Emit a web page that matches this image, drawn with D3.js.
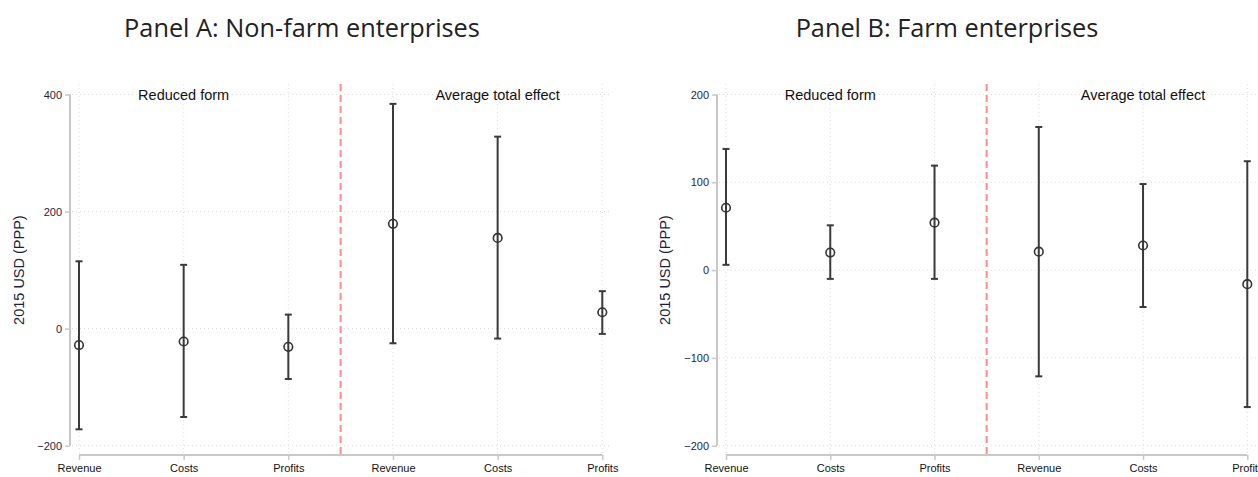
<!DOCTYPE html>
<html><head><meta charset="utf-8">
<script src="https://cdn.jsdelivr.net/npm/d3@7"></script>
<style>body{margin:0;background:#fff}svg{display:block}</style>
</head><body>
<script>
const categories = ["Revenue","Costs","Profits","Revenue","Costs","Profits"];
const groupLabels = ["Reduced form","Average total effect"];
const panelTitles = ["Panel A: Non-farm enterprises","Panel B: Farm enterprises"];
const yLabel = "2015 USD (PPP)";
// Panel A
const aPoint = [-28, -22, -31, 179, 155, 28];
const aLower = [-172, -151, -86, -25, -17, -9];
const aUpper = [115, 109, 24, 384, 328, 64];
const aTicks = [-200, 0, 200, 400];
// Panel B
const bPoint = [71, 20, 54, 21, 28, -16];
const bLower = [6, -10, -10, -121, -42, -156];
const bUpper = [138, 51, 119, 163, 98, 124];
const bTicks = [-200, -100, 0, 100, 200];

const W = 1258, H = 477;
const svg = d3.select("body").append("svg").attr("width", W).attr("height", H);

const panels = [
  {title: panelTitles[0], titleX: 302, axisX: 70, xr: [79, 602.3], gridRight: 612, ylabX: 19,
   domain: [-200, 400], ticks: aTicks, point: aPoint, lo: aLower, hi: aUpper},
  {title: panelTitles[1], titleX: 947, axisX: 717, xr: [726, 1247.3], gridRight: 1270, ylabX: 665,
   domain: [-200, 200], ticks: bTicks, point: bPoint, lo: bLower, hi: bUpper}
];

panels.forEach(p => {
  const g = svg.append("g");
  const y = d3.scaleLinear().domain(p.domain).range([445.7, 94.5]);
  const x = d3.scaleLinear().domain([0, 5]).range(p.xr);
  const top = 84, bottom = 455;

  // title
  svg.append("text").attr("x", p.titleX).attr("y", 37).attr("text-anchor", "middle")
    .attr("font-family", "Open Sans, sans-serif").attr("font-size", 25.3).attr("fill", "#222")
    .text(p.title);

  // horizontal grid
  g.selectAll(".hg").data(p.ticks).join("line")
    .attr("x1", p.axisX + 2).attr("x2", p.gridRight)
    .attr("y1", d => y(d)).attr("y2", d => y(d))
    .attr("stroke", "#dcdcdc").attr("stroke-width", 1).attr("stroke-dasharray", "1,3");
  // vertical grid
  g.selectAll(".vg").data(categories.map((c, i) => i)).join("line")
    .attr("x1", d => x(d)).attr("x2", d => x(d))
    .attr("y1", top).attr("y2", bottom)
    .attr("stroke", "#dcdcdc").attr("stroke-width", 1).attr("stroke-dasharray", "1,3");

  // y axis
  const yAxis = d3.axisLeft(y).tickValues(p.ticks).tickSize(5).tickPadding(3).tickFormat(d3.format("d"));
  const ya = g.append("g").attr("transform", `translate(${p.axisX},0)`).call(yAxis);
  ya.select(".domain").attr("d", `M0,${y(p.domain[0])}V${y(p.domain[1])}`).attr("stroke", "#c8c8c8").attr("stroke-width", 2);
  ya.selectAll(".tick line").attr("stroke", "#c8c8c8").attr("stroke-width", 1.5);
  ya.selectAll(".tick text").attr("font-family", "Liberation Sans, Arial, sans-serif").attr("font-size", 11).attr("fill", "#1e1e3c");

  // x axis
  const xAxis = d3.axisBottom(x).tickValues([0,1,2,3,4,5]).tickSize(5).tickPadding(4).tickFormat(i => categories[i]);
  const xa = g.append("g").attr("transform", `translate(0,${bottom})`).call(xAxis);
  xa.select(".domain").attr("d", `M${p.xr[0]},0H${p.xr[1]}`).attr("stroke", "#c8c8c8").attr("stroke-width", 2);
  xa.selectAll(".tick line").attr("stroke", "#c8c8c8").attr("stroke-width", 1.5);
  xa.selectAll(".tick text").attr("font-family", "Liberation Sans, Arial, sans-serif").attr("font-size", 11).attr("fill", "#111");

  // y label
  g.append("text").attr("transform", `translate(${p.ylabX},${(445.7+94.5)/2}) rotate(-90)`)
    .attr("text-anchor", "middle").attr("dy", "0.35em")
    .attr("font-family", "Liberation Sans, Arial, sans-serif").attr("font-size", 14.5).attr("fill", "#1e1e3c")
    .text(yLabel);

  // red dashed divider
  g.append("line").attr("x1", x(2.5)).attr("x2", x(2.5)).attr("y1", top).attr("y2", bottom)
    .attr("stroke", "#ff8c8c").attr("stroke-width", 2).attr("stroke-dasharray", "7,4");

  // group labels
  [1, 4].forEach((ci, k) => {
    g.append("text").attr("x", x(ci)).attr("y", 100).attr("text-anchor", "middle")
      .attr("font-family", "Liberation Sans, Arial, sans-serif").attr("font-size", 14.5).attr("fill", "#111")
      .text(groupLabels[k]);
  });

  // error bars
  const idx = categories.map((c, i) => i);
  const eb = g.append("g").attr("stroke", "#3a3a3a").attr("stroke-width", 2).attr("fill", "none");
  eb.selectAll(".v").data(idx).join("line")
    .attr("x1", i => x(i)).attr("x2", i => x(i))
    .attr("y1", i => y(p.lo[i])).attr("y2", i => y(p.hi[i]));
  eb.selectAll(".cl").data(idx).join("line")
    .attr("x1", i => x(i) - 3.5).attr("x2", i => x(i) + 3.5)
    .attr("y1", i => y(p.lo[i])).attr("y2", i => y(p.lo[i]));
  eb.selectAll(".cu").data(idx).join("line")
    .attr("x1", i => x(i) - 3.5).attr("x2", i => x(i) + 3.5)
    .attr("y1", i => y(p.hi[i])).attr("y2", i => y(p.hi[i]));
  g.selectAll(".pt").data(idx).join("circle")
    .attr("cx", i => x(i)).attr("cy", i => y(p.point[i])).attr("r", 4.3)
    .attr("fill", "none").attr("stroke", "#333").attr("stroke-width", 1.6);
});
</script>
</body></html>
